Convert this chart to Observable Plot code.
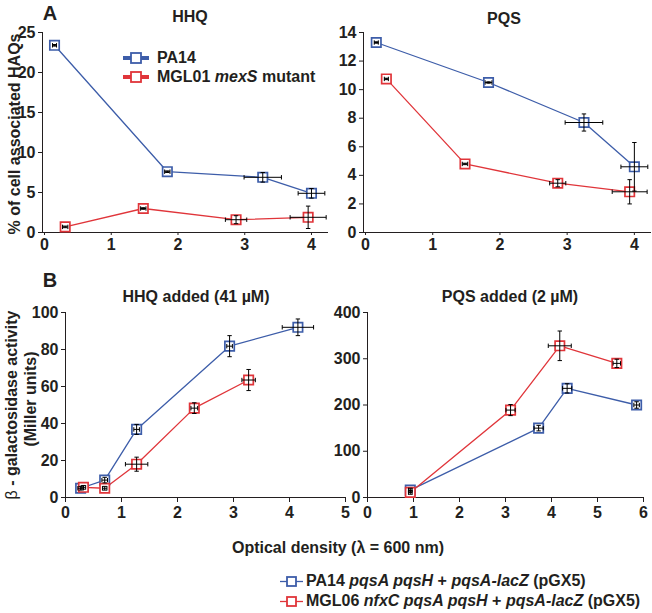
<!DOCTYPE html>
<html><head><meta charset="utf-8">
<script src="https://cdn.jsdelivr.net/npm/d3@7"></script>
<script src="https://cdn.jsdelivr.net/npm/@observablehq/plot@0.6"></script>
<style>
body{margin:0;background:#fff;font-family:"Liberation Sans",Arial,sans-serif;}
#fig{position:relative;width:652px;height:613px;overflow:hidden;color:#231f20;background:#fff;}
.t{position:absolute;font-weight:bold;font-size:16px;white-space:nowrap;line-height:1;}
</style></head><body><div id="fig"></div>
<script>
// ---- Data: rows are [OD600, value, OD error, value error] ----
// Panel A: % of cell associated HAQs
const hhqPA14   = [[0.15,23.4,0.03,0.1],[1.84,7.6,0.04,0.1],[3.27,6.9,0.28,0.6],[4.0,4.9,0.2,0.6]];
const hhqMGL01  = [[0.31,0.7,0.04,0.1],[1.48,3.0,0.04,0.1],[2.87,1.6,0.16,0.5],[3.95,1.9,0.27,1.4]];
const pqsPA14   = [[0.16,13.3,0.03,0.05],[1.83,10.5,0.05,0.05],[3.25,7.7,0.28,0.6],[4.0,4.6,0.2,1.7]];
const pqsMGL01  = [[0.31,10.75,0.03,0.05],[1.48,4.8,0.04,0.05],[2.86,3.45,0.12,0.25],[3.93,2.85,0.26,0.85]];
// Panel B: beta-galactosidase activity (Miller units)
const hhqAddPA14  = [[0.27,5,0.05,1],[0.7,9.4,0.05,1.5],[1.27,36.8,0.05,2.7],[2.93,81.8,0.05,5.7],[4.15,92,0.28,4.5]];
const hhqAddMGL06 = [[0.32,5.5,0.04,1],[0.7,5,0.04,1],[1.27,18,0.2,3.8],[2.3,48.3,0.06,2.9],[3.27,63.5,0.12,5.7]];
const pqsAddPA14  = [[0.93,16,0.04,4],[3.72,150,0.1,6],[4.34,236,0.1,10],[5.85,200,0.06,7]];
const pqsAddMGL06 = [[0.93,11,0.04,4],[3.11,189,0.1,12],[4.18,328,0.25,32],[5.42,290,0.08,9]];
// Tick values
const ticksHHQ = [0,5,10,15,20,25];
const ticksPQS = [0,2,4,6,8,10,12,14];
const ticksHHQAdd = [0,20,40,60,80,100];
const ticksPQSAdd = [0,100,200,300,400];
const odTicksA = [0,1,2,3,4];
const odTicksBL = [0,1,2,3,4,5];
const odTicksBR = [0,1,2,3,4,5,6];
const seriesNames = ["wt","mut"];
const seriesColors = ["#3d5da9","#e0353a"];

const fig = document.getElementById("fig");

const capV = {draw(ctx, size){ const h = Math.sqrt(size/Math.PI); ctx.moveTo(0,-h); ctx.lineTo(0,h); }};
const capH = {draw(ctx, size){ const h = Math.sqrt(size/Math.PI); ctx.moveTo(-h,0); ctx.lineTo(h,0); }};

function panel({wt, mut, xDomain, yDomain, xTicks, yTicks, left, top, width, height, mL, mR, mT, mB, xTickSize, xTickPad, r}) {
  const rows = [];
  [["wt", wt], ["mut", mut]].forEach(([name, arr]) => arr.forEach(([x,y,xe,ye]) => rows.push({name,x,y,xe,ye})));
  const svg = Plot.plot({
    width, height, marginLeft: mL, marginRight: mR, marginTop: mT, marginBottom: mB,
    style: {background: "transparent", overflow: "visible", fontFamily: "'Liberation Sans', Arial, sans-serif", fontSize: "16px", fontWeight: "bold", color: "#231f20"},
    x: {domain: xDomain, ticks: xTicks, tickSize: xTickSize, tickPadding: xTickPad, line: true, label: null, tickFormat: d => String(d)},
    y: {domain: yDomain, ticks: yTicks, tickSize: 4, tickPadding: 3, line: true, label: null, tickFormat: d => String(d)},
    color: {domain: seriesNames, range: seriesColors},
    marks: [
      Plot.line(rows, {x: "x", y: "y", z: "name", stroke: "name", strokeWidth: 1.3}),
      Plot.dot(rows, {x: "x", y: "y", symbol: "square", r, stroke: "name", fill: "white", strokeWidth: 1.7}),
      Plot.link(rows, {x1: d => d.x - d.xe, x2: d => d.x + d.xe, y1: "y", y2: "y", stroke: "black", strokeWidth: 1}),
      Plot.link(rows, {x1: "x", x2: "x", y1: d => d.y - d.ye, y2: d => d.y + d.ye, stroke: "black", strokeWidth: 1}),
      Plot.dot(rows.flatMap(d => [{x: d.x - d.xe, y: d.y}, {x: d.x + d.xe, y: d.y}]), {x: "x", y: "y", symbol: capV, r: 2.2, stroke: "black", strokeWidth: 1}),
      Plot.dot(rows.flatMap(d => [{x: d.x, y: d.y - d.ye}, {x: d.x, y: d.y + d.ye}]), {x: "x", y: "y", symbol: capH, r: 2.2, stroke: "black", strokeWidth: 1})
    ]
  });
  svg.style.position = "absolute";
  svg.style.left = left + "px";
  svg.style.top = top + "px";
  fig.appendChild(svg);
}

panel({wt: hhqPA14, mut: hhqMGL01, xDomain: [-0.03, 4.24], yDomain: [0, 25], xTicks: odTicksA, yTicks: ticksHHQ,
  left: 0, top: 0, width: 330, height: 250, mL: 42, mR: 3, mT: 32, mB: 18, xTickSize: 3, xTickPad: 3, r: 5.3});
panel({wt: pqsPA14, mut: pqsMGL01, xDomain: [-0.03, 4.24], yDomain: [0, 14], xTicks: odTicksA, yTicks: ticksPQS,
  left: 330, top: 0, width: 322, height: 250, mL: 33, mR: 2, mT: 32, mB: 18, xTickSize: 3, xTickPad: 3, r: 5.3});
panel({wt: hhqAddPA14, mut: hhqAddMGL06, xDomain: [0, 5], yDomain: [0, 100], xTicks: odTicksBL, yTicks: ticksHHQAdd,
  left: 0, top: 250, width: 350, height: 270, mL: 65, mR: 5, mT: 62, mB: 23, xTickSize: 5, xTickPad: 4, r: 5.3});
panel({wt: pqsAddPA14, mut: pqsAddMGL06, xDomain: [0, 6], yDomain: [0, 400], xTicks: odTicksBR, yTicks: ticksPQSAdd,
  left: 330, top: 250, width: 322, height: 270, mL: 37, mR: 9, mT: 62, mB: 23, xTickSize: 5, xTickPad: 4, r: 5.3});

function text(html, x, y, {align = "center", rotate = false, size = 16, weight = "bold"} = {}) {
  const d = document.createElement("div");
  d.className = "t";
  d.innerHTML = html;
  d.style.left = x + "px";
  d.style.top = y + "px";
  d.style.fontSize = size + "px";
  d.style.fontWeight = weight;
  const tx = align === "center" ? "-50%" : "0";
  d.style.transform = `translate(${tx},-50%)`;
  if (rotate) { d.style.transform = "translate(-50%,-50%) rotate(-90deg)"; d.style.transformOrigin = "50% 50%"; }
  fig.appendChild(d);
  return d;
}

function swatch(x, y, color, w, lw, s) {
  const ns = "http://www.w3.org/2000/svg";
  const svg = document.createElementNS(ns, "svg");
  const h = s + 4;
  svg.setAttribute("width", w); svg.setAttribute("height", h);
  svg.style.position = "absolute"; svg.style.left = x + "px"; svg.style.top = (y - h / 2) + "px";
  const line = document.createElementNS(ns, "line");
  line.setAttribute("x1", 0); line.setAttribute("x2", w); line.setAttribute("y1", h / 2); line.setAttribute("y2", h / 2);
  line.setAttribute("stroke", color); line.setAttribute("stroke-width", lw);
  const rect = document.createElementNS(ns, "rect");
  rect.setAttribute("x", w / 2 - s / 2); rect.setAttribute("y", h / 2 - s / 2); rect.setAttribute("width", s); rect.setAttribute("height", s);
  rect.setAttribute("fill", "white"); rect.setAttribute("stroke", color); rect.setAttribute("stroke-width", 1.8);
  svg.appendChild(line); svg.appendChild(rect);
  fig.appendChild(svg);
}

// Panel letters and titles
text("A", 50, 13, {size: 20});
text("B", 50, 280, {size: 20});
text("HHQ", 190, 17);
text("PQS", 504, 19);
text("HHQ added (41 µM)", 196, 297);
text("PQS added (2 µM)", 510, 297);
// Axis labels
text("% of cell associated HAQs", 15, 134, {rotate: true});
text("<span style='font-weight:normal'>β</span> - galactosidase activity", 12, 405, {rotate: true});
text("(Miller units)", 31, 399, {rotate: true});
text("Optical density (λ = 600 nm)", 338, 548);
// Legend in panel A
swatch(123, 58, seriesColors[0], 26, 4, 10);
swatch(123, 77, seriesColors[1], 26, 4, 10);
text("PA14", 157, 58, {align: "left"});
text("MGL01 <i>mexS</i> mutant", 157, 77, {align: "left"});
// Bottom legend
swatch(280, 581, seriesColors[0], 23, 1.3, 9);
swatch(280, 601, seriesColors[1], 23, 1.3, 9);
text("PA14 <i>pqsA pqsH</i> + <i>pqsA-lacZ</i> (pGX5)", 306, 581, {align: "left"});
text("MGL06 <i>nfxC pqsA pqsH</i> + <i>pqsA-lacZ</i> (pGX5)", 306, 601, {align: "left"});
</script>
</body></html>
